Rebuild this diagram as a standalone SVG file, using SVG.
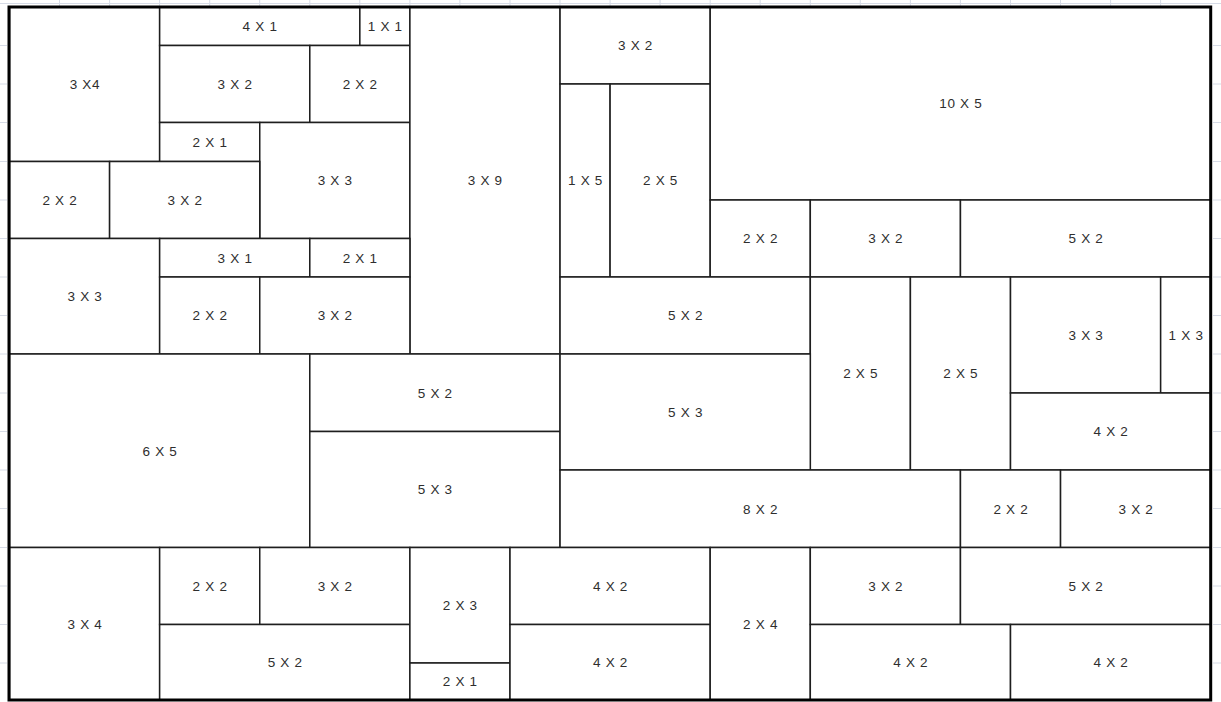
<svg xmlns="http://www.w3.org/2000/svg" width="1221" height="702" viewBox="0 0 1221 702">
<style>
.cell{fill:#fff;stroke:#1e1e1e;stroke-width:1.5}
.lbl{font-family:"Liberation Sans",Arial,sans-serif;font-size:13.5px;fill:#2e2e2e;text-anchor:middle;letter-spacing:0.7px}
.tick{stroke:#d6dbe6;stroke-width:1}
.frame{fill:none;stroke:#000;stroke-width:3}
</style>
<rect x="0" y="0" width="1221" height="702" fill="#fff"/>
<g id="gridticks">
<line class="tick" x1="0" y1="3.5" x2="1221" y2="3.5"/>
<path class="tick" d="M59.5 0V6M109.6 0V6M159.6 0V6M209.7 0V6M259.7 0V6M309.8 0V6M359.8 0V6M409.9 0V6M459.9 0V6M510 0V6M560 0V6M610.1 0V6M660.1 0V6M710.2 0V6M760.2 0V6M810.3 0V6M860.3 0V6M910.4 0V6M960.4 0V6M1010.5 0V6M1060.5 0V6M1110.6 0V6M1160.6 0V6"/>
<path class="tick" d="M0 45.5H7M0 84H7M0 122.5H7M0 161.5H7M0 200H7M0 238.5H7M0 277H7M0 315.5H7M0 354H7M0 393H7M0 431.5H7M0 470H7M0 508.5H7M0 547.5H7M0 586H7M0 624.5H7M0 663H7"/>
<path class="tick" d="M1213 45.5H1221M1213 84H1221M1213 122.5H1221M1213 161.5H1221M1213 200H1221M1213 238.5H1221M1213 277H1221M1213 315.5H1221M1213 354H1221M1213 393H1221M1213 431.5H1221M1213 470H1221M1213 508.5H1221M1213 547.5H1221M1213 586H1221M1213 624.5H1221M1213 663H1221"/>
</g>
<g id="connectors"></g>
<g id="n1"><rect class="cell" x="9.5" y="7" width="150.15" height="154.5"/><text class="lbl" x="85" y="89">3 X4</text></g>
<g id="n2"><rect class="cell" x="159.65" y="7" width="200.2" height="38.5"/><text class="lbl" x="260.1" y="31">4 X 1</text></g>
<g id="n3"><rect class="cell" x="359.85" y="7" width="50.05" height="38.5"/><text class="lbl" x="385.3" y="31">1 X 1</text></g>
<g id="n4"><rect class="cell" x="159.65" y="45.5" width="150.15" height="77"/><text class="lbl" x="235.1" y="88.8">3 X 2</text></g>
<g id="n5"><rect class="cell" x="309.8" y="45.5" width="100.1" height="77"/><text class="lbl" x="360.2" y="88.8">2 X 2</text></g>
<g id="n6"><rect class="cell" x="159.65" y="122.5" width="100.1" height="39"/><text class="lbl" x="210.1" y="146.8">2 X 1</text></g>
<g id="n7"><rect class="cell" x="259.75" y="122.5" width="150.15" height="116"/><text class="lbl" x="335.2" y="185.3">3 X 3</text></g>
<g id="n8"><rect class="cell" x="9.5" y="161.5" width="100.1" height="77"/><text class="lbl" x="59.9" y="204.8">2 X 2</text></g>
<g id="n9"><rect class="cell" x="109.6" y="161.5" width="150.15" height="77"/><text class="lbl" x="185.1" y="204.8">3 X 2</text></g>
<g id="n10"><rect class="cell" x="409.9" y="7" width="150.15" height="347"/><text class="lbl" x="485.3" y="185.3">3 X 9</text></g>
<g id="n11"><rect class="cell" x="9.5" y="238.5" width="150.15" height="115.5"/><text class="lbl" x="85" y="301">3 X 3</text></g>
<g id="n12"><rect class="cell" x="159.65" y="238.5" width="150.15" height="38.5"/><text class="lbl" x="235.1" y="262.5">3 X 1</text></g>
<g id="n13"><rect class="cell" x="309.8" y="238.5" width="100.1" height="38.5"/><text class="lbl" x="360.2" y="262.5">2 X 1</text></g>
<g id="n14"><rect class="cell" x="159.65" y="277" width="100.1" height="77"/><text class="lbl" x="210.1" y="320.3">2 X 2</text></g>
<g id="n15"><rect class="cell" x="259.75" y="277" width="150.15" height="77"/><text class="lbl" x="335.2" y="320.3">3 X 2</text></g>
<g id="n16"><rect class="cell" x="560.05" y="7" width="150.15" height="77"/><text class="lbl" x="635.5" y="50.3">3 X 2</text></g>
<g id="n17"><rect class="cell" x="560.05" y="84" width="50.05" height="193"/><text class="lbl" x="585.5" y="185.3">1 X 5</text></g>
<g id="n18"><rect class="cell" x="610.1" y="84" width="100.1" height="193"/><text class="lbl" x="660.5" y="185.3">2 X 5</text></g>
<g id="n19"><rect class="cell" x="710.2" y="7" width="500.5" height="193"/><text class="lbl" x="960.8" y="108.3">10 X 5</text></g>
<g id="n20"><rect class="cell" x="710.2" y="200" width="100.1" height="77"/><text class="lbl" x="760.6" y="243.3">2 X 2</text></g>
<g id="n21"><rect class="cell" x="810.3" y="200" width="150.15" height="77"/><text class="lbl" x="885.8" y="243.3">3 X 2</text></g>
<g id="n22"><rect class="cell" x="960.45" y="200" width="250.25" height="77"/><text class="lbl" x="1086" y="243.3">5 X 2</text></g>
<g id="n23"><rect class="cell" x="560.05" y="277" width="250.25" height="77"/><text class="lbl" x="685.6" y="320.3">5 X 2</text></g>
<g id="n24"><rect class="cell" x="810.3" y="277" width="100.1" height="193"/><text class="lbl" x="860.7" y="378.3">2 X 5</text></g>
<g id="n25"><rect class="cell" x="910.4" y="277" width="100.1" height="193"/><text class="lbl" x="960.8" y="378.3">2 X 5</text></g>
<g id="n26"><rect class="cell" x="1010.5" y="277" width="150.15" height="116"/><text class="lbl" x="1086" y="339.8">3 X 3</text></g>
<g id="n27"><rect class="cell" x="1160.65" y="277" width="50.05" height="116"/><text class="lbl" x="1186.1" y="339.8">1 X 3</text></g>
<g id="n28"><rect class="cell" x="1010.5" y="393" width="200.2" height="77"/><text class="lbl" x="1111" y="436.3">4 X 2</text></g>
<g id="n29"><rect class="cell" x="9.5" y="354" width="300.3" height="193.5"/><text class="lbl" x="160" y="455.5">6 X 5</text></g>
<g id="n30"><rect class="cell" x="309.8" y="354" width="250.25" height="77.5"/><text class="lbl" x="435.3" y="397.5">5 X 2</text></g>
<g id="n31"><rect class="cell" x="309.8" y="431.5" width="250.25" height="116"/><text class="lbl" x="435.3" y="494.3">5 X 3</text></g>
<g id="n32"><rect class="cell" x="560.05" y="354" width="250.25" height="116"/><text class="lbl" x="685.6" y="416.8">5 X 3</text></g>
<g id="n33"><rect class="cell" x="560.05" y="470" width="400.4" height="77.5"/><text class="lbl" x="760.6" y="513.5">8 X 2</text></g>
<g id="n34"><rect class="cell" x="960.45" y="470" width="100.1" height="77.5"/><text class="lbl" x="1010.9" y="513.5">2 X 2</text></g>
<g id="n35"><rect class="cell" x="1060.55" y="470" width="150.15" height="77.5"/><text class="lbl" x="1136" y="513.5">3 X 2</text></g>
<g id="n36"><rect class="cell" x="9.5" y="547.5" width="150.15" height="152.5"/><text class="lbl" x="85" y="628.5">3 X 4</text></g>
<g id="n37"><rect class="cell" x="159.65" y="547.5" width="100.1" height="77"/><text class="lbl" x="210.1" y="590.8">2 X 2</text></g>
<g id="n38"><rect class="cell" x="259.75" y="547.5" width="150.15" height="77"/><text class="lbl" x="335.2" y="590.8">3 X 2</text></g>
<g id="n39"><rect class="cell" x="159.65" y="624.5" width="250.25" height="75.5"/><text class="lbl" x="285.2" y="667">5 X 2</text></g>
<g id="n40"><rect class="cell" x="409.9" y="547.5" width="100.1" height="115.5"/><text class="lbl" x="460.3" y="610">2 X 3</text></g>
<g id="n41"><rect class="cell" x="409.9" y="663" width="100.1" height="37"/><text class="lbl" x="460.3" y="686.3">2 X 1</text></g>
<g id="n42"><rect class="cell" x="510" y="547.5" width="200.2" height="77"/><text class="lbl" x="610.5" y="590.8">4 X 2</text></g>
<g id="n43"><rect class="cell" x="510" y="624.5" width="200.2" height="75.5"/><text class="lbl" x="610.5" y="667">4 X 2</text></g>
<g id="n44"><rect class="cell" x="710.2" y="547.5" width="100.1" height="152.5"/><text class="lbl" x="760.6" y="628.5">2 X 4</text></g>
<g id="n45"><rect class="cell" x="810.3" y="547.5" width="150.15" height="77"/><text class="lbl" x="885.8" y="590.8">3 X 2</text></g>
<g id="n46"><rect class="cell" x="960.45" y="547.5" width="250.25" height="77"/><text class="lbl" x="1086" y="590.8">5 X 2</text></g>
<g id="n47"><rect class="cell" x="810.3" y="624.5" width="200.2" height="75.5"/><text class="lbl" x="910.8" y="667">4 X 2</text></g>
<g id="n48"><rect class="cell" x="1010.5" y="624.5" width="200.2" height="75.5"/><text class="lbl" x="1111" y="667">4 X 2</text></g>
<rect class="frame" x="9" y="7" width="1201.7" height="693"/>
</svg>
